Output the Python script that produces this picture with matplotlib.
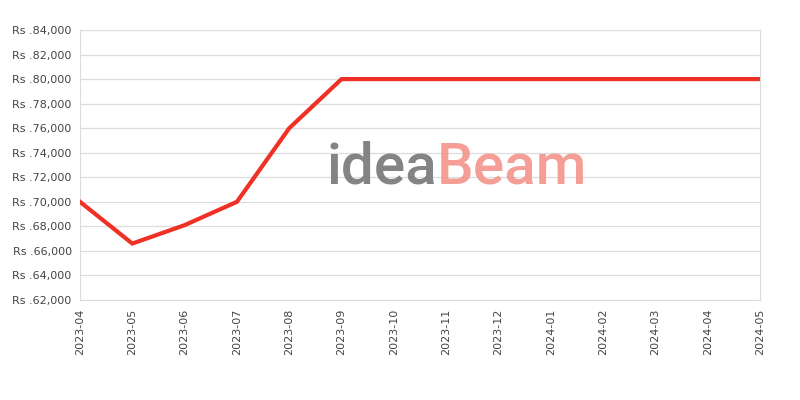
import matplotlib.pyplot as plt

# 價格資料
months = ["2023-04", "2023-05", "2023-06", "2023-07", "2023-08", "2023-09",
          "2023-10", "2023-11", "2023-12", "2024-01", "2024-02", "2024-03",
          "2024-04", "2024-05"]
prices = [70000, 66600, 68100, 70000, 76000, 80000,
          80000, 80000, 80000, 80000, 80000, 80000, 80000, 80000]
yticks = list(range(62000, 84001, 2000))

fig = plt.figure(figsize=(8, 4), dpi=100)
ax = fig.add_axes([0.1, 0.25, 0.85, 0.675])

x = range(len(months))
ax.plot(x, prices, color="#ee3124", linewidth=3, solid_joinstyle="miter", zorder=3)

ax.set_xlim(0, len(months) - 1)
ax.set_ylim(62000, 84000)
ax.set_yticks(yticks)
ax.set_yticklabels(["Rs .{:,}".format(v) for v in yticks])
ax.set_xticks(list(x))
ax.set_xticklabels(months, rotation=90)
ax.tick_params(length=0, labelsize=8, labelcolor="#444444", pad=6)
ax.grid(True, axis="y", color="#dddddd", linewidth=0.9)
ax.set_axisbelow(True)
for s in ax.spines.values():
    s.set_color("#dddddd")

# watermark
ax.text(0.525, 0.49, "idea", transform=ax.transAxes, fontsize=42, color="#777777",
        alpha=0.9, ha="right", va="center", zorder=2, family="Roboto", weight="medium")
ax.text(0.525, 0.49, "Beam", transform=ax.transAxes, fontsize=42, color="#f4948b",
        alpha=0.9, ha="left", va="center", zorder=2, family="Roboto", weight="medium")

fig.savefig("out.png")
